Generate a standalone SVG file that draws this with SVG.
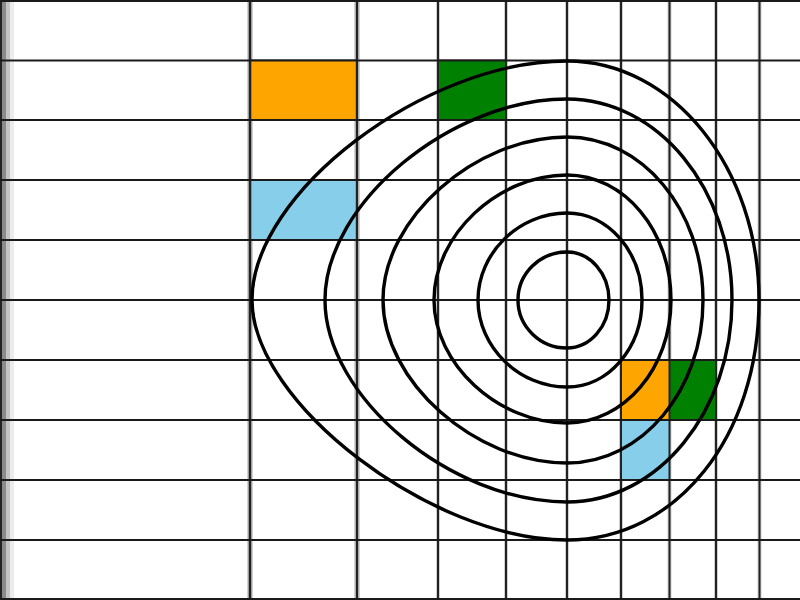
<svg xmlns="http://www.w3.org/2000/svg" width="800" height="600" viewBox="0 0 800 600">
  <style>
    .halo { stroke: #cfcfcf; stroke-width: 4; }
    .halo-wide { stroke: #d2d2d2; stroke-width: 6; }
    .gl { stroke: #1a1a1a; stroke-width: 1.8; }
    .glv { stroke: #222; stroke-width: 2; }
    .cell { stroke: #333; stroke-width: 1; }
    .contour { fill: none; stroke: #000; stroke-width: 3.4; }
  </style>
  <rect x="0" y="0" width="800" height="600" fill="#fff"/>

  <g id="grid-halos">
    <rect x="0" y="0" width="2" height="600" fill="#222"/>
    <rect x="2" y="0" width="4" height="600" fill="#8a8a8a"/>
    <rect x="6" y="0" width="4" height="600" fill="#c4c4c4"/>
    <rect x="10" y="0" width="4" height="600" fill="#ececec"/>
    <line class="halo-wide" x1="250" y1="0" x2="250" y2="600"/>
    <line class="halo-wide" x1="357" y1="0" x2="357" y2="600"/>
    <line class="halo" x1="438" y1="0" x2="438" y2="600"/>
    <line class="halo" x1="506" y1="0" x2="506" y2="600"/>
    <line class="halo" x1="567" y1="0" x2="567" y2="600"/>
    <line class="halo" x1="621" y1="0" x2="621" y2="600"/>
    <line class="halo" x1="669.5" y1="0" x2="669.5" y2="600"/>
    <line class="halo" x1="716" y1="0" x2="716" y2="600"/>
    <line class="halo" x1="759.5" y1="0" x2="759.5" y2="600"/>
  </g>

  <g id="cells">
    <rect class="cell" x="250" y="60" width="107" height="60" fill="#FFA500"/>
    <rect class="cell" x="438" y="60" width="68" height="60" fill="#008000"/>
    <rect class="cell" x="250" y="180" width="107" height="60" fill="#87CEEB"/>
    <rect class="cell" x="621" y="360" width="48.5" height="60" fill="#FFA500"/>
    <rect class="cell" x="669.5" y="360" width="46.5" height="60" fill="#008000"/>
    <rect class="cell" x="621" y="420" width="48.5" height="60" fill="#87CEEB"/>
  </g>

  <g id="grid">
    <g>
      <line class="glv" x1="250" y1="0" x2="250" y2="600" style="stroke-width:2.6"/>
      <line class="glv" x1="357" y1="0" x2="357" y2="600" style="stroke-width:2.4"/>
      <line class="glv" x1="438" y1="0" x2="438" y2="600"/>
      <line class="glv" x1="506" y1="0" x2="506" y2="600"/>
      <line class="glv" x1="567" y1="0" x2="567" y2="600"/>
      <line class="glv" x1="621" y1="0" x2="621" y2="600"/>
      <line class="glv" x1="669.5" y1="0" x2="669.5" y2="600"/>
      <line class="glv" x1="716" y1="0" x2="716" y2="600"/>
      <line class="glv" x1="759.5" y1="0" x2="759.5" y2="600"/>
    </g>
    <g>
      <line class="gl" x1="0" y1="1" x2="800" y2="1"/>
      <line class="gl" x1="0" y1="60.5" x2="800" y2="60.5"/>
      <line class="gl" x1="0" y1="120" x2="800" y2="120"/>
      <line class="gl" x1="0" y1="180" x2="800" y2="180"/>
      <line class="gl" x1="0" y1="240" x2="800" y2="240"/>
      <line class="gl" x1="0" y1="300" x2="800" y2="300"/>
      <line class="gl" x1="0" y1="360" x2="800" y2="360"/>
      <line class="gl" x1="0" y1="420" x2="800" y2="420"/>
      <line class="gl" x1="0" y1="480" x2="800" y2="480"/>
      <line class="gl" x1="0" y1="540" x2="800" y2="540"/>
      <line class="gl" x1="0" y1="599" x2="800" y2="599"/>
    </g>
  </g>

  <g id="contours">
    <path class="contour" d="M567,252 C590.2,252 609,273.5 609,300 C609,326.5 590.2,348 567,348 C539.9,348 518,326.5 518,300 C518,273.5 539.9,252 567,252 Z"/>
    <path class="contour" d="M567,213 C608.4,213 642,251.9 642,300 C642,348.1 608.4,387 567,387 C518.9,387 478,347 478,300 C478,253 518.9,213 567,213 Z"/>
    <path class="contour" d="M567,175 C624.4,175 671,231 671,300 C671,367.9 624.4,423 567,423 C497.8,423 434,364 434,300 C434,235 497.8,175 567,175 Z"/>
    <path class="contour" d="M567,137 C642.1,137 703,210 703,300 C703,390 642.1,463 567,463 C475,463 383,381.5 383,300 C383,218.5 475,137 567,137 Z"/>
    <path class="contour" d="M567,99 C658.1,99 732,189 732,300 C732,411.6 658.1,502 567,502 C450.8,502 325,397 325,300 C325,203.5 450.8,99 567,99 Z"/>
    <path class="contour" d="M567,61 C673,61 759,168 759,300 C759,436.8 676.4,540 567,540 C431.5,540 252,403.2 252,300 C252,192.4 425.2,61 567,61 Z"/>
  </g>
</svg>
